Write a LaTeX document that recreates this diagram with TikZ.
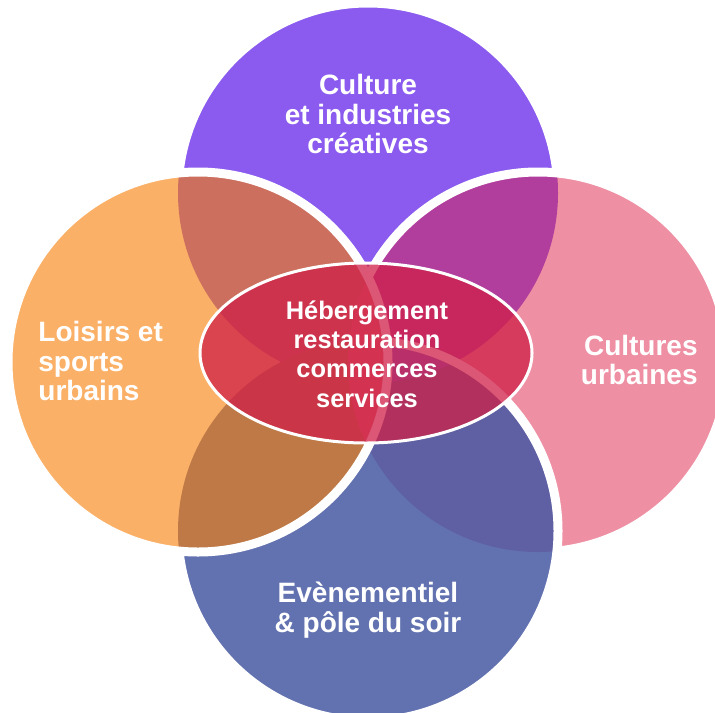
\documentclass[tikz,border=0pt]{standalone}
\usepackage{fontspec}
\setmainfont{Liberation Sans}
\usepackage{tikz}

\definecolor{topcol}{RGB}{139,90,238}
\definecolor{leftcol}{RGB}{251,176,103}
\definecolor{rightcol}{RGB}{238,143,163}
\definecolor{botcol}{RGB}{98,114,176}
\definecolor{tlcol}{RGB}{204,111,94}
\definecolor{trcol}{RGB}{177,62,156}
\definecolor{blcol}{RGB}{190,121,70}
\definecolor{brcol}{RGB}{95,96,163}
\definecolor{tbcol}{RGB}{120,95,210}
\definecolor{lrcol}{RGB}{225,105,110}
\definecolor{hubred}{RGB}{207,32,72}

\begin{document}
\begin{tikzpicture}[x=0.5pt,y=-0.5pt,
  ring/.style={draw=white,line width=4.5pt},
  lbl/.style={text=white,inner sep=0pt,font=\bfseries\fontsize{14}{14.75}\selectfont},
  hublbl/.style={text=white,inner sep=0pt,align=center,font=\bfseries\fontsize{12.7}{14.65}\selectfont}]
\useasboundingbox (0,0) rectangle (715,712);
\clip (0,0) rectangle (715,712);
% top circle
\fill[topcol] (368,193) circle (190);
\draw[ring] (368,193) circle (190);
% right circle
\fill[rightcol] (538,362) circle (190);
\begin{scope}
\clip (368,193) circle (190);
\fill[trcol] (538,362) circle (190);
\end{scope}
\draw[ring] (538,362) circle (190);
% bottom circle
\fill[botcol] (368,531) circle (190);
\begin{scope}
\clip (538,362) circle (190);
\fill[brcol] (368,531) circle (190);
\end{scope}
\begin{scope}
\clip (368,193) circle (190);
\fill[tbcol] (368,531) circle (190);
\end{scope}
\draw[ring] (368,531) circle (190);
% left circle
\fill[leftcol] (198,362) circle (190);
\begin{scope}
\clip (368,193) circle (190);
\fill[tlcol] (198,362) circle (190);
\end{scope}
\begin{scope}
\clip (368,531) circle (190);
\fill[blcol] (198,362) circle (190);
\end{scope}
\begin{scope}
\clip (538,362) circle (190);
\fill[lrcol] (198,362) circle (190);
\end{scope}
\draw[ring] (198,362) circle (190);
% centre
\draw[white,line width=1.5pt,fill=hubred,fill opacity=0.75] (366,353) ellipse (166 and 90);
\node[hublbl] (H) at (367,354) {H\'ebergement\\restauration\\commerces\\services};
% labels
\node[lbl,align=center] (T) at (368,114) {Culture\\et industries\\cr\'eatives};
\node[lbl,align=left,anchor=west] (L) at (38,361) {Loisirs et\\sports\\urbains};
\node[lbl,align=right,anchor=east] (R) at (698,360) {Cultures\\urbaines};
\node[lbl,align=center] (B) at (368,610) {Ev\`enementiel\\\& p\^ole du soir};
\end{tikzpicture}
\end{document}
